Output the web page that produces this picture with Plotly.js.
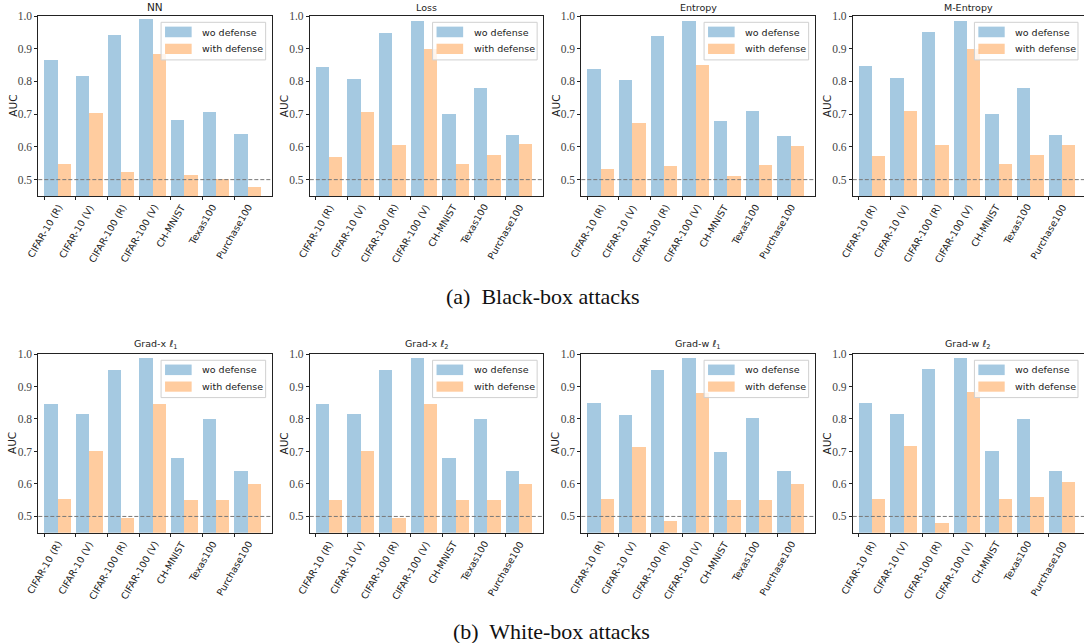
<!DOCTYPE html>
<html>
<head>
<meta charset="utf-8">
<script src="https://cdn.plot.ly/plotly-3.0.1.min.js"></script>
<style>html,body{margin:0;padding:0;background:#fff;}#chart{width:1084px;height:643px;}</style>
</head>
<body>
<div id="chart"></div>
<script>
// ---- data ----
const categories = ["CIFAR-10 (R)", "CIFAR-10 (V)", "CIFAR-100 (R)", "CIFAR-100 (V)", "CH-MNIST", "Texas100", "Purchase100"];
const seriesNames = ["wo defense", "with defense"];
const panelTitles = ["NN", "Loss", "Entropy", "M-Entropy",
  "Grad-x <i>ℓ</i><sub>1</sub>", "Grad-x <i>ℓ</i><sub>2</sub>", "Grad-w <i>ℓ</i><sub>1</sub>", "Grad-w <i>ℓ</i><sub>2</sub>"];
const captions = ["(a)  Black-box attacks", "(b)  White-box attacks"];
const yTicks = [0.5, 0.6, 0.7, 0.8, 0.9, 1.0];

const nn_wo       = [0.865, 0.818, 0.942, 0.991, 0.682, 0.706, 0.639];
const nn_with     = [0.547, 0.705, 0.522, 0.883, 0.513, 0.501, 0.477];
const loss_wo     = [0.844, 0.809, 0.948, 0.985, 0.700, 0.780, 0.635];
const loss_with   = [0.569, 0.708, 0.605, 0.898, 0.547, 0.576, 0.608];
const ent_wo      = [0.838, 0.805, 0.939, 0.984, 0.679, 0.709, 0.632];
const ent_with    = [0.534, 0.672, 0.541, 0.850, 0.510, 0.545, 0.604];
const ment_wo     = [0.847, 0.810, 0.950, 0.985, 0.700, 0.780, 0.636];
const ment_with   = [0.572, 0.711, 0.606, 0.900, 0.547, 0.574, 0.607];
const gxl1_wo     = [0.847, 0.814, 0.952, 0.987, 0.680, 0.800, 0.639];
const gxl1_with   = [0.553, 0.703, 0.495, 0.845, 0.551, 0.551, 0.600];
const gxl2_wo     = [0.847, 0.815, 0.952, 0.987, 0.680, 0.800, 0.639];
const gxl2_with   = [0.551, 0.703, 0.495, 0.845, 0.551, 0.551, 0.600];
const gwl1_wo     = [0.848, 0.811, 0.952, 0.987, 0.699, 0.802, 0.639];
const gwl1_with   = [0.554, 0.714, 0.485, 0.879, 0.552, 0.552, 0.600];
const gwl2_wo     = [0.849, 0.814, 0.953, 0.988, 0.702, 0.800, 0.640];
const gwl2_with   = [0.554, 0.716, 0.481, 0.884, 0.555, 0.560, 0.606];

const woSets   = [nn_wo, loss_wo, ent_wo, ment_wo, gxl1_wo, gxl2_wo, gwl1_wo, gwl2_wo];
const withSets = [nn_with, loss_with, ent_with, ment_with, gxl1_with, gxl2_with, gwl1_with, gwl2_with];

// ---- layout geometry (pixels) ----
const W = 1084, H = 643;
const colLeft = [38.3, 309.8, 581.3, 852.8];
const axW = 233.4;
const rowTop = [16, 354], rowBot = [196, 532.7];
const xMin = -0.19, xMax = 7.18;
const pxPerUnit = axW / (xMax - xMin);
const barW = 0.42;
const blue = "rgba(31,119,180,0.4)", orange = "rgba(255,127,14,0.4)";

const data = [], shapes = [], annotations = [];
const layout = {
  width: W, height: H, margin: {l: 0, r: 0, t: 0, b: 0},
  paper_bgcolor: "#fff", plot_bgcolor: "rgba(0,0,0,0)",
  showlegend: false, barmode: "overlay", bargap: 0,
  font: {family: "DejaVu Sans", color: "#222"}
};

const idx = categories.map((c, i) => i);

for (let k = 0; k < 8; k++) {
  const r = Math.floor(k / 4), c = k % 4;
  const n = k + 1;
  const xa = "xaxis" + (n === 1 ? "" : n), ya = "yaxis" + (n === 1 ? "" : n);
  const xr = "x" + (n === 1 ? "" : n), yr = "y" + (n === 1 ? "" : n);
  let left = colLeft[c], right = left + axW, rangeR = xMax;
  if (right > W) { rangeR = xMin + (W - left) / pxPerUnit; right = W; }
  layout[xa] = {
    domain: [left / W, right / W], range: [xMin, rangeR], anchor: yr,
    tickvals: idx, showticklabels: false, ticks: "outside", ticklen: 3, tickcolor: "#222",
    showline: true, mirror: true, linecolor: "#222", linewidth: 1,
    showgrid: false, zeroline: false, fixedrange: true
  };
  layout[ya] = {
    domain: [1 - rowBot[r] / H, 1 - rowTop[r] / H], range: [0.45, 1.0], anchor: xr,
    tickvals: yTicks, ticktext: yTicks.map(v => v.toFixed(1)),
    ticks: "outside", ticklen: 3, tickcolor: "#222",
    tickfont: {family: "Liberation Serif", size: 11.5, color: "#444"},
    showline: true, mirror: true, linecolor: "#222", linewidth: 1,
    showgrid: false, zeroline: false, fixedrange: true
  };
  data.push({type: "bar", x: idx, y: woSets[k], xaxis: xr, yaxis: yr, offset: 0, width: barW,
    marker: {color: blue, line: {width: 0}}, name: seriesNames[0], hoverinfo: "skip"});
  data.push({type: "bar", x: idx, y: withSets[k], xaxis: xr, yaxis: yr, offset: barW, width: barW,
    marker: {color: orange, line: {width: 0}}, name: seriesNames[1], hoverinfo: "skip"});

  // dashed reference line at 0.5
  shapes.push({type: "line", xref: xr + " domain", yref: yr, x0: 0, x1: 1, y0: 0.5, y1: 0.5,
    line: {color: "#777", width: 1, dash: "4px,2px"}, layer: "above"});

  // legend box
  shapes.push({type: "rect", xref: xr + " domain", yref: yr + " domain", x0: 0.526, x1: 0.974, y0: 0.756, y1: 0.965,
    fillcolor: "rgba(255,255,255,0.8)", line: {color: "#d0d0d0", width: 1}, layer: "above"});
  shapes.push({type: "rect", xref: xr + " domain", yref: yr + " domain", x0: 0.543, x1: 0.657, y0: 0.882, y1: 0.941,
    fillcolor: blue, line: {width: 0}, layer: "above"});
  shapes.push({type: "rect", xref: xr + " domain", yref: yr + " domain", x0: 0.543, x1: 0.657, y0: 0.789, y1: 0.846,
    fillcolor: orange, line: {width: 0}, layer: "above"});
  annotations.push({xref: xr + " domain", yref: yr + " domain", x: 0.693, y: 0.911, xanchor: "left", yanchor: "middle",
    text: seriesNames[0], showarrow: false, font: {family: "DejaVu Sans", size: 9.5, color: "#222"}});
  annotations.push({xref: xr + " domain", yref: yr + " domain", x: 0.693, y: 0.817, xanchor: "left", yanchor: "middle",
    text: seriesNames[1], showarrow: false, font: {family: "DejaVu Sans", size: 9.5, color: "#222"}});

  // subplot title
  annotations.push({xref: xr + " domain", yref: yr + " domain", x: 0.5, y: 1, yshift: 1, xanchor: "center", yanchor: "bottom",
    text: panelTitles[k], showarrow: false, font: {family: "DejaVu Sans", size: k === 0 ? 10.5 : 9.5, color: "#222"}});
  // y axis title
  annotations.push({xref: xr + " domain", yref: yr + " domain", x: 0, xshift: -25.6, y: 0.5, xanchor: "center", yanchor: "middle",
    textangle: -90, text: "AUC", showarrow: false, font: {family: "DejaVu Sans", size: 10.5, color: "#222"}});
  // rotated category labels
  categories.forEach((cat, i) => {
    annotations.push({xref: xr, yref: yr + " domain", x: i, y: 0, yshift: -4, xanchor: "center", yanchor: "top",
      textangle: -60, text: cat, showarrow: false, font: {family: "DejaVu Sans", size: 9.5, color: "#222"}});
  });
}

annotations.push({xref: "paper", yref: "paper", x: 543 / W, y: 1 - 297 / H, xanchor: "center", yanchor: "middle",
  text: captions[0], showarrow: false, font: {family: "Liberation Serif", size: 22, color: "#111"}});
annotations.push({xref: "paper", yref: "paper", x: 551 / W, y: 1 - 631 / H, xanchor: "center", yanchor: "middle",
  text: captions[1], showarrow: false, font: {family: "Liberation Serif", size: 22, color: "#111"}});

layout.shapes = shapes;
layout.annotations = annotations;

Plotly.newPlot("chart", data, layout, {displayModeBar: false, staticPlot: true});
</script>
</body>
</html>
